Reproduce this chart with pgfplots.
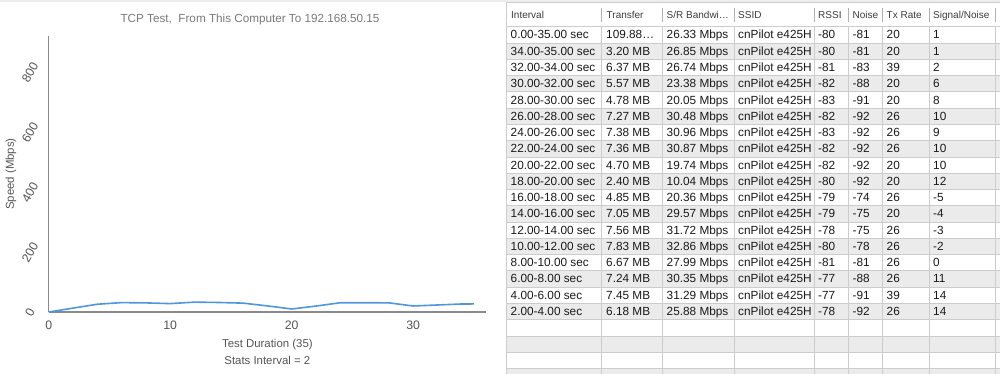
\documentclass[border=0pt]{standalone}
\usepackage{fontspec}
\setmainfont{Liberation Sans}
\usepackage{pgfplots}
\pgfplotsset{compat=1.18}
\definecolor{axisgray}{HTML}{8A8A8A}
\definecolor{titlegray}{HTML}{7A7A7A}
\definecolor{labgray}{HTML}{555555}
\definecolor{linblue}{HTML}{5096DC}
\definecolor{rowgray}{HTML}{EBEBEB}
\definecolor{gridgray}{HTML}{CCCCCC}
\definecolor{sepgray}{HTML}{B0B0B0}
\definecolor{txt}{HTML}{1A1A1A}
\newcommand\datafont{\fontsize{11.8}{13}\selectfont}
\newcommand\headfont{\fontsize{10}{12}\selectfont}
\begin{document}
\begin{tikzpicture}[x=1pt,y=1pt]
\useasboundingbox (0,0) rectangle (1000,374);
\fill[white] (0,0) rectangle (1000,374);
\fill[black!7] (0,371.5) rectangle (1000,374);

\begin{axis}[at={(48.7pt,62pt)}, anchor=south west, scale only axis,
  width=437.3pt, height=276pt,
  xmin=0, xmax=36, ymin=0, ymax=920,
  axis x line=bottom, axis y line=left,
  axis line style={-, draw=axisgray, line width=1.3pt},
  xtick={0,10,20,30}, ytick={0,200,400,600,800},
  major tick length=0pt,
  /pgf/number format/assume math mode=true,
  ticklabel style={font=\fontsize{12.3}{14}\selectfont, text=labgray},
  xticklabel style={yshift=-5pt},
  yticklabel style={anchor=center, xshift=-18.7pt, rotate=60},
  every axis y label/.style={at={(axis description cs:0,0.5)}, xshift=-37.7pt, anchor=center, rotate=90, font=\fontsize{11.4}{14}\selectfont, text=labgray},
  every axis x label/.style={at={(axis description cs:0.5,0)}, anchor=north, yshift=-24pt, align=center, font=\fontsize{11.4}{16.5}\selectfont, text=labgray},
  xlabel={Test Duration (35)\\Stats Interval = 2},
  ylabel={Speed (Mbps)},
  clip=false]
\addplot[linblue, line width=1.6pt] coordinates {
 (0,0) (4,25.88) (6,31.29) (8,30.35) (10,27.99) (12,32.86) (14,31.72) (16,29.57)
 (18,20.36) (20,10.04) (22,19.74) (24,30.87) (26,30.96) (28,30.48) (30,20.05)
 (32,23.38) (34,26.74) (35,26.85)};
\end{axis}

\node[font=\fontsize{11.7}{14}\selectfont, text=titlegray] at (250,355) {TCP Test,\ \ From This Computer To 192.168.50.15};

\begin{scope}[shift={(0pt,374pt)}, y=-1pt]
  \foreach \i in {1,3,...,21} {\fill[rowgray] (506,{26.8+16.27*\i}) rectangle (1000,{26.8+16.27*(\i+1)});}
  \foreach \i in {0,...,22} {\draw[gridgray, line width=0.8pt] (506,{26.8+16.27*\i}) -- (1000,{26.8+16.27*\i});}
  \foreach \x in {601.7,662.3,734,814.3,848.7,882.7,929,995} {\draw[gridgray, line width=0.8pt] (\x,26.8) -- (\x,374);}
  \draw[gridgray, line width=0.8pt] (506,2.5) -- (1000,2.5);
  \draw[gridgray, line width=0.9pt] (506,2.5) -- (506,374);
  \foreach \x in {601.7,662.3,734,814.3,848.7,882.7,929,995} {\draw[sepgray, line width=0.9pt] (\x,8) -- (\x,22);}
  % header
  \foreach \x/\t in {511/Interval,606.5/Transfer,738/SSID,818/RSSI,852.5/Noise,886.5/Tx Rate,933/Signal\slash Noise}
    {\node[anchor=base west, inner sep=0, font=\headfont, text=txt!85] at (\x,19) {\t};}
  \node[anchor=base west, inner sep=0, font=\headfont, text=txt!85] at (666.5,19) {S/R Bandwi…};
  % rows
  \foreach \a/\b/\c/\d/\e/\f/\g/\h [count=\i from 0] in {
    0.00-35.00 sec/109.88…/26.33 Mbps/cnPilot e425H/-80/-81/20/1,
    34.00-35.00 sec/3.20 MB/26.85 Mbps/cnPilot e425H/-80/-81/20/1,
    32.00-34.00 sec/6.37 MB/26.74 Mbps/cnPilot e425H/-81/-83/39/2,
    30.00-32.00 sec/5.57 MB/23.38 Mbps/cnPilot e425H/-82/-88/20/6,
    28.00-30.00 sec/4.78 MB/20.05 Mbps/cnPilot e425H/-83/-91/20/8,
    26.00-28.00 sec/7.27 MB/30.48 Mbps/cnPilot e425H/-82/-92/26/10,
    24.00-26.00 sec/7.38 MB/30.96 Mbps/cnPilot e425H/-83/-92/26/9,
    22.00-24.00 sec/7.36 MB/30.87 Mbps/cnPilot e425H/-82/-92/26/10,
    20.00-22.00 sec/4.70 MB/19.74 Mbps/cnPilot e425H/-82/-92/20/10,
    18.00-20.00 sec/2.40 MB/10.04 Mbps/cnPilot e425H/-80/-92/20/12,
    16.00-18.00 sec/4.85 MB/20.36 Mbps/cnPilot e425H/-79/-74/26/-5,
    14.00-16.00 sec/7.05 MB/29.57 Mbps/cnPilot e425H/-79/-75/20/-4,
    12.00-14.00 sec/7.56 MB/31.72 Mbps/cnPilot e425H/-78/-75/26/-3,
    10.00-12.00 sec/7.83 MB/32.86 Mbps/cnPilot e425H/-80/-78/26/-2,
    8.00-10.00 sec/6.67 MB/27.99 Mbps/cnPilot e425H/-81/-81/26/0,
    6.00-8.00 sec/7.24 MB/30.35 Mbps/cnPilot e425H/-77/-88/26/11,
    4.00-6.00 sec/7.45 MB/31.29 Mbps/cnPilot e425H/-77/-91/39/14,
    2.00-4.00 sec/6.18 MB/25.88 Mbps/cnPilot e425H/-78/-92/26/14} {
    \pgfmathsetmacro\yy{26.8+16.27*\i+8.135+4}
    \node[anchor=base west, inner sep=0, font=\datafont, text=txt] at (510.5,\yy) {\a};
    \node[anchor=base west, inner sep=0, font=\datafont, text=txt] at (606,\yy) {\b};
    \node[anchor=base west, inner sep=0, font=\datafont, text=txt] at (666.5,\yy) {\c};
    \node[anchor=base west, inner sep=0, font=\datafont, text=txt] at (738,\yy) {\d};
    \node[anchor=base west, inner sep=0, font=\datafont, text=txt] at (818,\yy) {\e};
    \node[anchor=base west, inner sep=0, font=\datafont, text=txt] at (852.5,\yy) {\f};
    \node[anchor=base west, inner sep=0, font=\datafont, text=txt] at (886.5,\yy) {\g};
    \node[anchor=base west, inner sep=0, font=\datafont, text=txt] at (933,\yy) {\h};
  }
\end{scope}
\end{tikzpicture}
\end{document}
